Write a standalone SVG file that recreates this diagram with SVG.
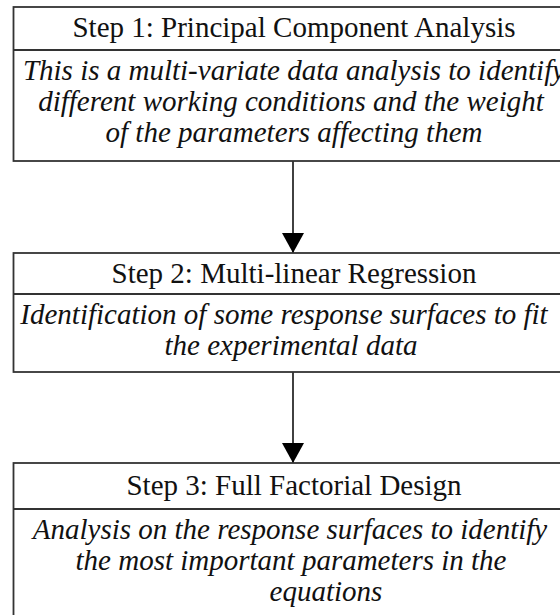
<svg xmlns="http://www.w3.org/2000/svg" width="560" height="615" viewBox="0 0 560 615">
  <style>
    .box { fill: #fff; stroke: #333; stroke-width: 1.8; }
    .div { stroke: #333; stroke-width: 1.8; }
    .head { font-family: "Liberation Serif", "Times New Roman", serif; font-size: 29px; fill: #111; text-anchor: middle; }
    .body { font-family: "Liberation Serif", "Times New Roman", serif; font-size: 29px; font-style: italic; fill: #111; text-anchor: middle; }
    .conn { stroke: #111; stroke-width: 1.6; fill: none; }
  </style>
  <defs>
    <marker id="arrow" markerUnits="userSpaceOnUse" markerWidth="24" markerHeight="22" refX="20" refY="11" orient="auto">
      <path d="M0,0 L20,11 L0,22 Z" fill="#000"/>
    </marker>
  </defs>
  <rect width="560" height="615" fill="#fff"/>

  <g id="connectors">
    <line class="conn" x1="293" y1="161" x2="293" y2="253" marker-end="url(#arrow)"/>
    <line class="conn" x1="293" y1="372" x2="293" y2="463" marker-end="url(#arrow)"/>
  </g>

  <g id="step1">
    <rect class="box" x="13.5" y="7" width="565" height="154"/>
    <line class="div" x1="13.5" y1="50" x2="578" y2="50"/>
    <text class="head" x="294" y="37">Step 1: Principal Component Analysis</text>
    <text class="body" x="294" y="80">This is a multi-variate data analysis to identify</text>
    <text class="body" x="291" y="111">different working conditions and the weight</text>
    <text class="body" x="294" y="142">of the parameters affecting them</text>
  </g>

  <g id="step2">
    <rect class="box" x="13.5" y="253" width="565" height="119"/>
    <line class="div" x1="13.5" y1="294" x2="578" y2="294"/>
    <text class="head" x="294" y="283">Step 2: Multi-linear Regression</text>
    <text class="body" x="284" y="324">Identification of some response surfaces to fit</text>
    <text class="body" x="291" y="355">the experimental data</text>
  </g>

  <g id="step3">
    <rect class="box" x="13.5" y="463" width="565" height="170"/>
    <line class="div" x1="13.5" y1="509" x2="578" y2="509"/>
    <text class="head" x="294" y="495">Step 3: Full Factorial Design</text>
    <text class="body" x="290" y="539">Analysis on the response surfaces to identify</text>
    <text class="body" x="291" y="570">the most important parameters in the</text>
    <text class="body" x="326" y="601">equations</text>
  </g>
</svg>
